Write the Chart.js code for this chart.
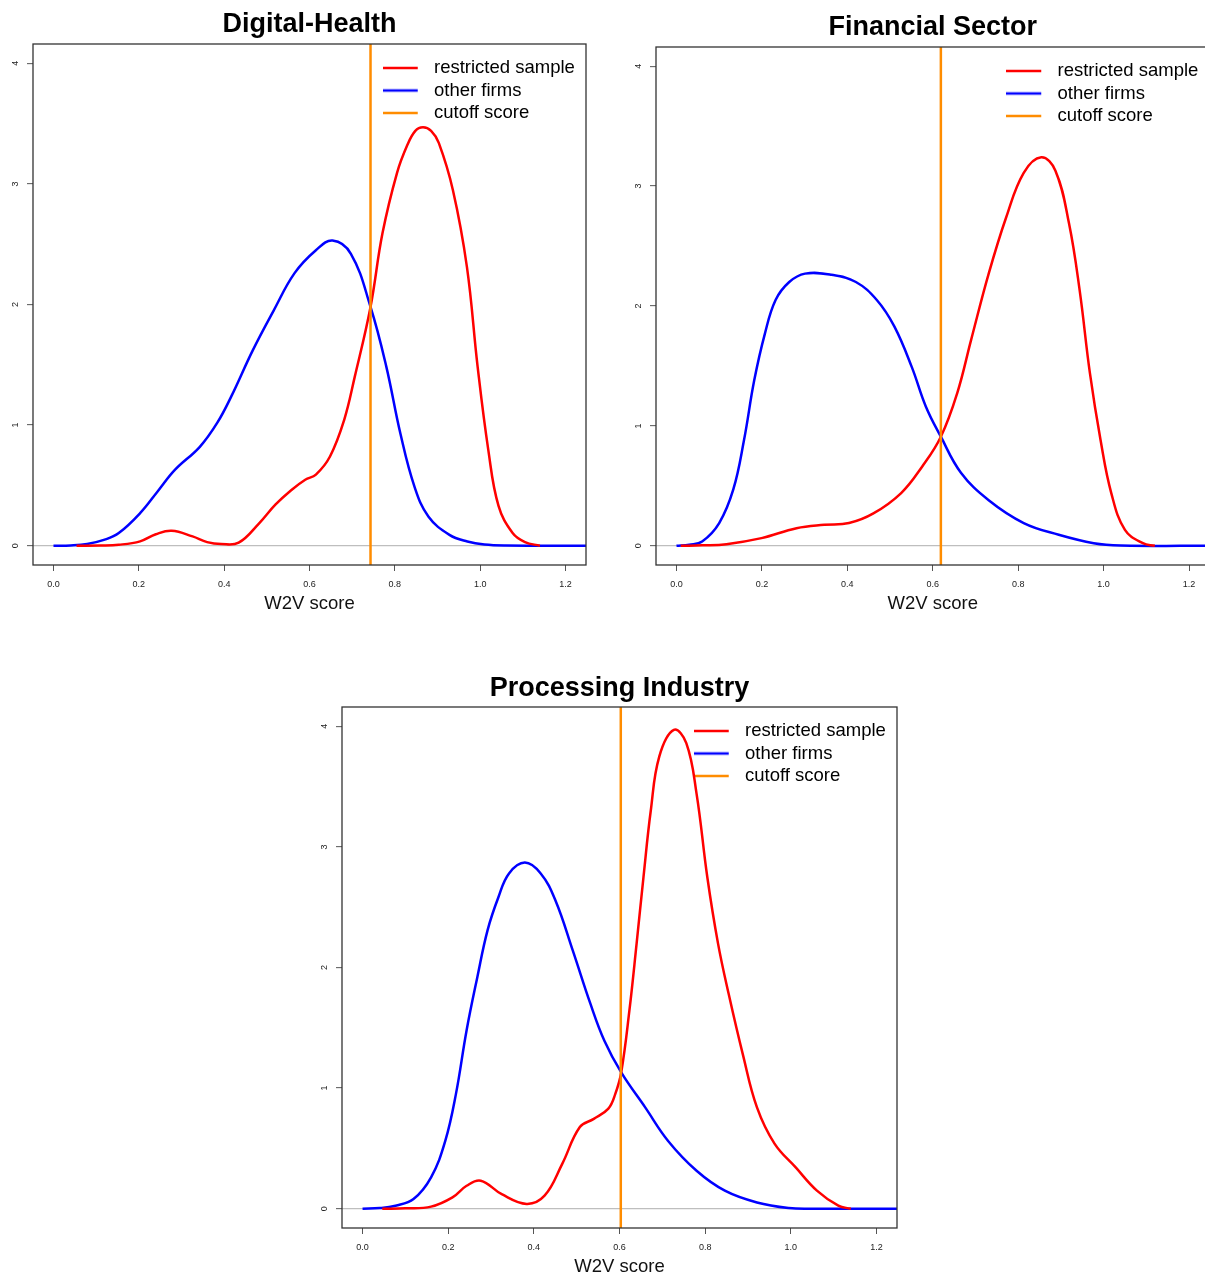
<!DOCTYPE html>
<html>
<head>
<meta charset="utf-8">
<title>W2V score densities</title>
<script src="https://cdn.jsdelivr.net/npm/chart.js@4.4.1/dist/chart.umd.min.js"></script>
<style>
  html, body { margin: 0; padding: 0; background: #fff; overflow: hidden; }
  body { width: 1205px; height: 1274px; position: relative; }
  canvas { position: absolute; }
</style>
</head>
<body>
<script>
// axis ticks shared by the three panels
const xTicks = [0, 0.2, 0.4, 0.6, 0.8, 1.0, 1.2]
const xTickLabels = ['0.0', '0.2', '0.4', '0.6', '0.8', '1.0', '1.2']
const yTicks = [0, 1, 2, 3, 4]
const yTickLabels = ['0', '1', '2', '3', '4']
const xRange = [-0.048, 1.248]
const yRange = [-0.16, 4.16]
const seriesNames = ['restricted sample', 'other firms', 'cutoff score']

// density curves, [W2V score, density]
const healthRestricted = [[0.054,0],[0.11,0.002],[0.153,0.008],[0.203,0.036],[0.24,0.095],[0.277,0.124],[0.326,0.077],[0.36,0.03],[0.393,0.014],[0.434,0.025],[0.483,0.19],[0.52,0.34],[0.557,0.46],[0.59,0.547],[0.615,0.59],[0.648,0.74],[0.681,1.04],[0.706,1.40],[0.743,1.98],[0.771,2.59],[0.805,3.09],[0.829,3.32],[0.848,3.44],[0.866,3.47],[0.885,3.44],[0.903,3.34],[0.936,2.95],[0.969,2.31],[0.994,1.485],[1.019,0.795],[1.043,0.33],[1.076,0.105],[1.105,0.03],[1.14,0]]
const healthOther = [[0,0],[0.04,0.002],[0.079,0.014],[0.12,0.05],[0.153,0.105],[0.203,0.27],[0.244,0.45],[0.285,0.63],[0.343,0.82],[0.384,1.02],[0.417,1.24],[0.467,1.62],[0.516,1.95],[0.565,2.26],[0.615,2.45],[0.654,2.53],[0.697,2.42],[0.743,1.98],[0.78,1.485],[0.813,0.93],[0.846,0.49],[0.879,0.24],[0.928,0.09],[0.97,0.035],[1.01,0.01],[1.06,0.002],[1.26,0]]
const healthCutoff = 0.743

const financeRestricted = [[0.01,0],[0.06,0.004],[0.117,0.014],[0.199,0.064],[0.281,0.147],[0.346,0.175],[0.404,0.19],[0.461,0.27],[0.526,0.44],[0.575,0.66],[0.619,0.91],[0.657,1.27],[0.69,1.72],[0.731,2.27],[0.772,2.74],[0.813,3.11],[0.854,3.24],[0.887,3.13],[0.919,2.69],[0.944,2.13],[0.968,1.44],[0.993,0.88],[1.018,0.44],[1.05,0.133],[1.092,0.022],[1.12,0]]
const financeOther = [[0,0],[0.03,0.01],[0.06,0.036],[0.10,0.19],[0.133,0.47],[0.158,0.88],[0.182,1.38],[0.207,1.77],[0.232,2.05],[0.264,2.20],[0.301,2.27],[0.363,2.26],[0.42,2.20],[0.469,2.05],[0.51,1.83],[0.551,1.49],[0.584,1.16],[0.619,0.91],[0.666,0.61],[0.731,0.38],[0.813,0.19],[0.895,0.092],[0.977,0.022],[1.04,0.003],[1.26,0]]
const financeCutoff = 0.619

const processingRestricted = [[0.046,0],[0.1,0.003],[0.16,0.017],[0.21,0.094],[0.243,0.19],[0.276,0.232],[0.325,0.12],[0.383,0.04],[0.425,0.108],[0.466,0.37],[0.507,0.675],[0.54,0.745],[0.574,0.83],[0.59,0.95],[0.604,1.13],[0.623,1.64],[0.64,2.20],[0.656,2.75],[0.673,3.30],[0.693,3.75],[0.727,3.97],[0.756,3.86],[0.78,3.44],[0.805,2.75],[0.83,2.20],[0.855,1.78],[0.888,1.28],[0.921,0.84],[0.962,0.54],[1.012,0.34],[1.061,0.15],[1.111,0.025],[1.14,0]]
const processingOther = [[0,0],[0.04,0.005],[0.077,0.025],[0.119,0.08],[0.16,0.26],[0.193,0.56],[0.218,0.95],[0.243,1.48],[0.268,1.92],[0.292,2.31],[0.317,2.58],[0.342,2.78],[0.379,2.87],[0.416,2.78],[0.45,2.56],[0.491,2.14],[0.532,1.70],[0.565,1.39],[0.604,1.13],[0.66,0.84],[0.714,0.56],[0.78,0.315],[0.846,0.15],[0.921,0.052],[0.995,0.006],[1.05,0],[1.26,0]]
const processingCutoff = 0.603

const colors = ['#ff0000', '#0000ff', '#ff8c00']

Chart.defaults.font.family = '"Liberation Sans", Arial, sans-serif'
Chart.defaults.color = '#222'

// where each plot box sits on the page
const panels = [
  {title: 'Digital-Health', restricted: healthRestricted, other: healthOther, cutoff: healthCutoff,
   top: 0, plotLeft: 33, plotTop: 44, plotRight: 586, plotBottom: 565, titleY: 25},
  {title: 'Financial Sector', restricted: financeRestricted, other: financeOther, cutoff: financeCutoff,
   top: 0, plotLeft: 656, plotTop: 47, plotRight: 1209.5, plotBottom: 565, titleY: 28},
  {title: 'Processing Industry', restricted: processingRestricted, other: processingOther, cutoff: processingCutoff,
   top: 655, plotLeft: 342, plotTop: 707, plotRight: 897, plotBottom: 1228, titleY: 689},
]

const AXIS_W = 33, AXIS_H = 60, PAD_R = 14

// R style legend key: a 35px line, drawn on a slightly wider canvas
function legendLine(color) {
  const c = document.createElement('canvas')
  c.width = 42
  c.height = 6
  const g = c.getContext('2d')
  g.strokeStyle = color
  g.lineWidth = 2.5
  g.beginPath()
  g.moveTo(0, 3)
  g.lineTo(35, 3)
  g.stroke()
  return c
}

const panelFrame = {
  id: 'panelFrame',
  afterLayout(chart) {
    // legend sits in the top right corner of the box
    const a = chart.chartArea, lg = chart.legend
    lg.left = a.right - 207.25
    lg.right = a.right
    lg.top = a.top + 10.75
    lg.bottom = a.bottom
  },
  afterDraw(chart) {
    const {ctx, chartArea: a} = chart
    ctx.save()
    ctx.strokeStyle = '#333'
    ctx.lineWidth = 1.3
    ctx.strokeRect(a.left, a.top, a.right - a.left, a.bottom - a.top)
    ctx.restore()
  }
}

const toPoints = arr => arr.map(([x, y]) => ({x, y}))

panels.forEach(p => {
  const left = p.plotLeft - AXIS_W
  const width = Math.ceil(p.plotRight + PAD_R - left)
  const height = p.plotBottom + AXIS_H - p.top
  const canvas = document.createElement('canvas')
  canvas.width = width
  canvas.height = height
  canvas.style.left = left + 'px'
  canvas.style.top = p.top + 'px'
  document.body.appendChild(canvas)

  const lineStyle = i => ({
    borderColor: colors[i],
    borderWidth: 2.5,
    pointRadius: 0,
    pointStyle: legendLine(colors[i]),
    tension: 0.4,
    clip: 0,
  })

  new Chart(canvas, {
    type: 'line',
    data: {
      datasets: [
        {label: seriesNames[0], data: toPoints(p.restricted), order: 1, ...lineStyle(0)},
        {label: seriesNames[1], data: toPoints(p.other), order: 2, ...lineStyle(1)},
        {label: seriesNames[2], data: toPoints([[p.cutoff, yRange[0]], [p.cutoff, yRange[1]]]), order: 0, ...lineStyle(2)},
      ]
    },
    options: {
      responsive: false,
      animation: false,
      devicePixelRatio: 1,
      events: [],
      layout: {padding: {left: 0, top: 0, bottom: 0, right: width - (p.plotRight - left)}},
      plugins: {
        tooltip: {enabled: false},
        title: {
          display: true, text: p.title, fullSize: false, color: '#000',
          font: {size: 27, weight: 'bold'},
          padding: {top: p.titleY - p.top - 16.2, bottom: p.plotTop - p.titleY - 16.2},
        },
        legend: {
          position: 'chartArea', align: 'start',
          labels: {
            usePointStyle: true, pointStyleWidth: 42, padding: 4, color: '#000',
            font: {size: 18.5},
            sort: (a, b) => a.datasetIndex - b.datasetIndex,
          }
        }
      },
      scales: {
        x: {
          type: 'linear', min: xRange[0], max: xRange[1],
          afterBuildTicks: s => { s.ticks = xTicks.map(v => ({value: v})) },
          afterFit: s => { s.height = AXIS_H },
          border: {display: false},
          grid: {drawOnChartArea: false, tickLength: 6, tickColor: '#555', tickWidth: 1},
          ticks: {padding: 8.5, font: {size: 9}, maxRotation: 0, autoSkip: false,
                  callback: v => xTickLabels[xTicks.indexOf(v)]},
          title: {display: true, text: 'W2V score', color: '#111', font: {size: 18.5},
                  padding: {top: 0, bottom: 9.9}}
        },
        y: {
          type: 'linear', min: yRange[0], max: yRange[1],
          afterBuildTicks: s => { s.ticks = yTicks.map(v => ({value: v})) },
          afterFit: s => { s.width = AXIS_W },
          border: {display: false},
          grid: {
            color: c => (c.tick && c.tick.value === 0) ? '#bebebe' : 'rgba(0,0,0,0)',
            lineWidth: 1.3, tickLength: 6, tickColor: '#555', tickWidth: 1
          },
          ticks: {padding: 8.5, font: {size: 9}, minRotation: 90, maxRotation: 90, crossAlign: 'center',
                  callback: v => yTickLabels[yTicks.indexOf(v)]}
        }
      }
    },
    plugins: [panelFrame]
  })
})
</script>
</body>
</html>
